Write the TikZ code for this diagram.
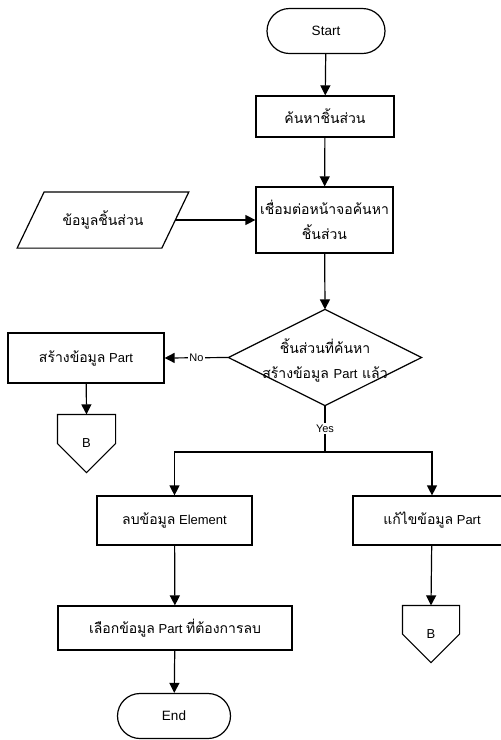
\documentclass[tikz,border=0pt]{standalone}
\usepackage{fontspec}
\setmainfont{Liberation Sans}
\newfontfamily\thai[Script=Thai]{Loma}
\usetikzlibrary{arrows.meta,shapes.misc,calc}
\begin{document}
\begin{tikzpicture}[x=1pt,y=-1pt,
  line width=1.2pt,
  >={Triangle[length=10pt,width=10pt]},
  every node/.style={inner sep=0pt, align=center, font=\fontsize{13}{15}\selectfont},
  procbox/.style={draw, rectangle},
  term/.style={draw, rounded rectangle, font=\fontsize{13.5}{15}\selectfont},
  ghost/.style={rectangle},
  th/.style={font=\thai\fontsize{14}{25}\selectfont},
  lbl/.style={fill=white, inner sep=1.5pt, font=\fontsize{11}{13}\selectfont}
]
\useasboundingbox (0,0) rectangle (501,740);
\clip (0,0) rectangle (501,740);

% nodes
\node[term, minimum width=118, minimum height=45] (start) at (326,31) {Start};
\node[procbox, th, minimum width=138, minimum height=41] (search) at (325,116.5) {ค้นหาชิ้นส่วน};
\node[procbox, th, minimum width=137, minimum height=66] (connect) at (324.5,220) {เชื่อมต่อหน้าจอค้นหา\\ชิ้นส่วน};

\node[ghost, th, minimum width=143.5, minimum height=55] (data) at (103,220) {ข้อมูลชิ้นส่วน};
\draw ($(data.north west)+(13.5,0)$) -- ($(data.north east)+(13.5,0)$)
  -- ($(data.south east)+(-13.5,0)$) -- ($(data.south west)+(-13.5,0)$) -- cycle;

\node[ghost, minimum width=192, minimum height=95] (dec) at (325,357.5) {};
\draw (dec.north) -- (dec.east) -- (dec.south) -- (dec.west) -- cycle;
\node[th] (dectext) at (325,360.5) {ชิ้นส่วนที่ค้นหา\\สร้างข้อมูล {\rmfamily\fontsize{13}{25}\selectfont Part} แล้ว};

\node[procbox, minimum width=156, minimum height=50] (create) at (86,358) {{\thai\fontsize{14}{16}\selectfont สร้างข้อมูล} Part};
\node[ghost, minimum width=57, minimum height=57] (b1) at (86.5,443.5) {B};
\draw (b1.north west) -- (b1.north east) -- (b1.east) -- (b1.south) -- (b1.west) -- cycle;

\coordinate (split) at (325,452);

\node[procbox, minimum width=155, minimum height=49] (del) at (174.5,520.5) {{\thai\fontsize{14}{16}\selectfont ลบข้อมูล} Element};
\node[procbox, minimum width=158, minimum height=49] (edit) at (432,520.5) {{\thai\fontsize{14}{16}\selectfont แก้ไขข้อมูล} Part};
\node[procbox, minimum width=234, minimum height=44] (choose) at (175,628) {{\thai\fontsize{14}{16}\selectfont เลือกข้อมูล} Part {\thai\fontsize{14}{16}\selectfont ที่ต้องการลบ}};
\node[term, minimum width=113, minimum height=45] (end) at (174,716) {End};
\node[ghost, minimum width=56, minimum height=56] (b2) at (431,634) {B};
\draw (b2.north west) -- (b2.north east) -- (b2.east) -- (b2.south) -- (b2.west) -- cycle;

% connectors
\draw[->] (start) -- (search);
\draw[->] (search) -- (connect);
\draw[->] (data.east) -- (connect.west);
\draw[->] (connect) -- (dec.north);
\draw[->] (dec.west) -- node[lbl] {No} (create.east);
\draw[->] (create) -- (b1.north);
\draw (dec.south) -- node[lbl] {Yes} (split);
\draw[->] (split) -| (del.north);
\draw[->] (split) -| (edit.north);
\draw[->] (del) -- (choose);
\draw[->] (choose) -- (end);
\draw[->] (edit) -- (b2.north);
\end{tikzpicture}
\end{document}
